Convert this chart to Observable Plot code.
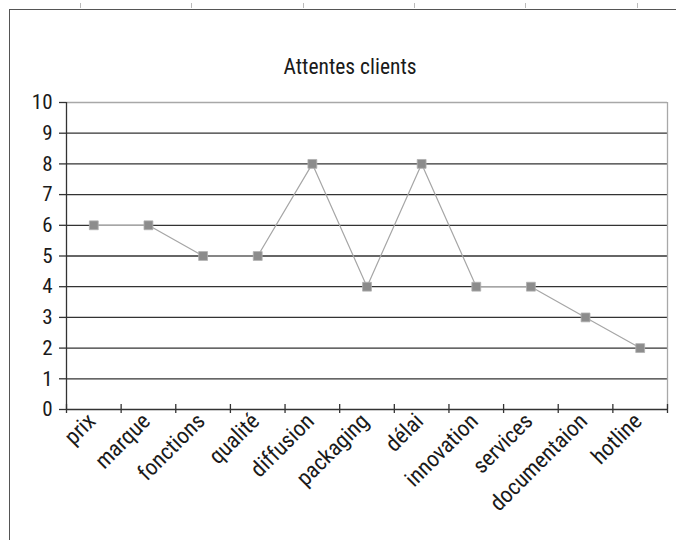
<!DOCTYPE html>
<html>
<head>
<meta charset="utf-8">
<script src="https://cdn.jsdelivr.net/npm/d3@7"></script>
<script src="https://cdn.jsdelivr.net/npm/@observablehq/plot@0.6"></script>
<style>
  html, body { margin: 0; padding: 0; background: #fff; }
  #wrap { position: relative; width: 676px; height: 540px; overflow: hidden; background: #fff; }
  #chart { position: absolute; left: 0; top: 0; }
  .frameL { position: absolute; left: 9px; top: 9px; width: 0; height: 540px; border-left: 1.5px solid #555; }
  .frameT { position: absolute; left: 9px; top: 9px; width: 680px; height: 0; border-top: 1.5px solid #555; }
  .tk { position: absolute; top: 3px; width: 0; height: 5px; border-left: 1.5px solid #bbb; }
  svg text { font-family: "Roboto Condensed", "Liberation Sans", sans-serif; font-weight: 400; }
</style>
</head>
<body>
<div id="wrap">
  <div id="chart"></div>
  <div class="frameL"></div>
  <div class="frameT"></div>
</div>
<script>
const title = "Attentes clients";
const categories = ["prix", "marque", "fonctions", "qualité", "diffusion", "packaging", "délai", "innovation", "services", "documentaion", "hotline"];
const values = [6, 6, 5, 5, 8, 4, 8, 4, 4, 3, 2];
const yTicks = [0, 1, 2, 3, 4, 5, 6, 7, 8, 9, 10];
const decoTicks = [80, 191, 303, 414, 525, 637];

const data = categories.map((c, i) => ({i, c, v: values[i]}));
const idx = categories.map((c, i) => i);
const bounds = [...idx.map(i => i - 0.5), categories.length - 0.5];

const chart = Plot.plot({
  width: 676,
  height: 540,
  marginLeft: 66,
  marginRight: 9,
  marginTop: 102,
  marginBottom: 131,
  style: {fontFamily: '"Roboto Condensed", "Liberation Sans", sans-serif', background: "white", color: "#1a1a1a"},
  x: {type: "linear", domain: [-0.5, categories.length - 0.5]},
  y: {domain: [0, 10]},
  marks: [
    Plot.ruleY(yTicks.filter(t => t > 0 && t < 10), {stroke: "#333", strokeWidth: 1.3}),
    Plot.ruleY([10], {stroke: "#a8a8a8", strokeWidth: 1.3}),
    Plot.ruleX([categories.length - 0.5], {stroke: "#a8a8a8", strokeWidth: 1.3}),
    Plot.ruleX([-0.5], {stroke: "#333", strokeWidth: 1.3}),
    Plot.ruleY([0], {stroke: "#333", strokeWidth: 1.3}),
    Plot.axisY({ticks: yTicks, tickSize: 7, tickPadding: 7, fontSize: 21, label: null, stroke: "#333", strokeWidth: 1.3}),
    Plot.axisX({ticks: bounds, tickSize: 9, dy: -5, tickFormat: () => "", label: null, stroke: "#333", strokeWidth: 1.3}),
    Plot.axisX({ticks: idx, tickSize: 0, tickPadding: 8, tickRotate: -45, fontSize: 22.5, dx: -2, tickFormat: i => categories[i], label: null}),
    Plot.line(data, {x: "i", y: "v", stroke: "#a6a6a6", strokeWidth: 1.2}),
    Plot.dot(data, {x: "i", y: "v", symbol: "square", r: 5, fill: "#8c8c8c", stroke: "#b0b0b0", strokeWidth: 0.8}),
    Plot.text([title], {frameAnchor: "top", dx: -17, dy: -44, fontSize: 21.5, fill: "#1a1a1a"})
  ]
});
document.getElementById("chart").appendChild(chart);
const wrap = document.getElementById("wrap");
decoTicks.forEach(x => {
  const d = document.createElement("div");
  d.className = "tk";
  d.style.left = x + "px";
  wrap.appendChild(d);
});
</script>
</body>
</html>
